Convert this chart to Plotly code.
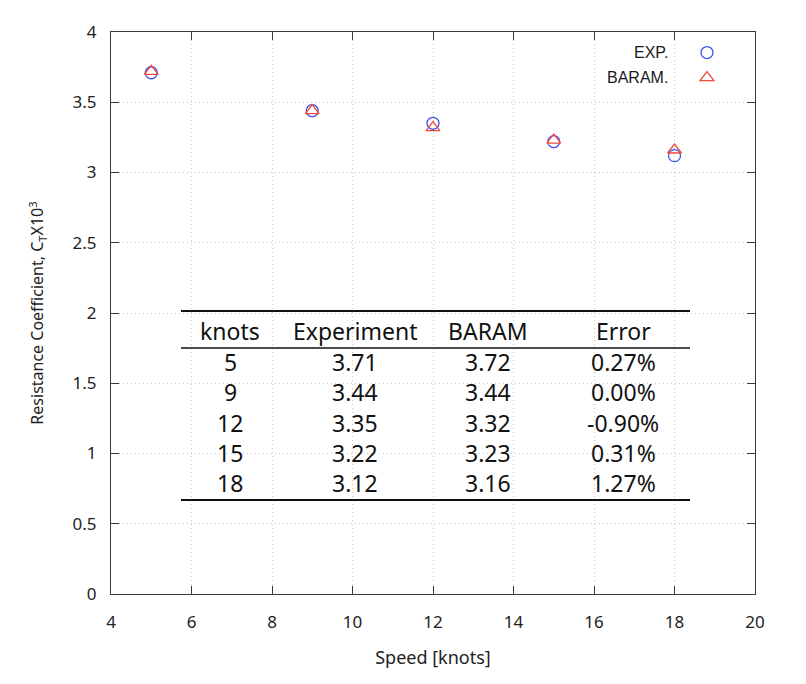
import plotly.graph_objects as go

speeds = [5, 9, 12, 15, 18]
ct_exp = [3.71, 3.44, 3.35, 3.22, 3.12]
ct_baram = [3.72, 3.44, 3.32, 3.23, 3.16]
errors_pct = [0.27, 0.00, -0.90, 0.31, 1.27]
table_header = ["knots", "Experiment", "BARAM", "Error"]
series_names = ["EXP.", "BARAM."]

x_ticks = list(range(4, 21, 2))
y_ticks = [0, 0.5, 1, 1.5, 2, 2.5, 3, 3.5, 4]

BLUE = "#4050f0"
RED = "#f04a38"
AXIS = "#3a3a3a"
GRID = "#c8c8c8"
FONT = "Noto Sans"

# the page puts the figure 8px in from the top-left corner
OFF = 8
W, H = 806, 684
L, R, T, B = 111 - OFF, 51 + OFF, 32 - OFF, 90 + OFF
plot_w, plot_h = W - L - R, H - T - B


def px_x(px):
    return (px - OFF - L) / plot_w


def px_y(py):
    return (H - B - (py - OFF)) / plot_h


fig = go.Figure()
fig.add_trace(go.Scatter(
    x=speeds, y=ct_exp, mode="markers", name="",
    marker=dict(symbol="circle-open", size=12, color=BLUE, line=dict(width=1.3, color=BLUE)),
    hovertemplate=series_names[0] + " %{x}, %{y}<extra></extra>",
))
fig.add_trace(go.Scatter(
    x=speeds, y=ct_baram, mode="markers", name="",
    marker=dict(symbol="triangle-up-open", size=12, color=RED, line=dict(width=1.3, color=RED)),
    hovertemplate=series_names[1] + " %{x}, %{y}<extra></extra>",
))

# gnuplot-style key: label on the left, symbol on the right
for i, label in enumerate(series_names):
    fig.add_annotation(
        text=label, xref="paper", yref="paper", x=px_x(670), y=px_y(52 + 25.5 * i),
        xanchor="right", yanchor="middle", showarrow=False,
        font=dict(family="Liberation Sans", size=16, color="#1a1a1a"),
    )

# table inside the plot
col_px = [230, 355, 488, 623]
for c, head in enumerate(table_header):
    fig.add_annotation(
        text=head, xref="paper", yref="paper", x=px_x(col_px[c]), y=px_y(331),
        xanchor="center", yanchor="middle", showarrow=False,
        font=dict(family=FONT, size=23, color="#111111"),
    )
for r, (kn, e, b, err) in enumerate(zip(speeds, ct_exp, ct_baram, errors_pct)):
    row = [f"{kn}", f"{e:.2f}", f"{b:.2f}", f"{err:.2f}%"]
    for c, txt in enumerate(row):
        fig.add_annotation(
            text=txt, xref="paper", yref="paper", x=px_x(col_px[c]), y=px_y(362 + 30.25 * r),
            xanchor="center", yanchor="middle", showarrow=False,
            font=dict(family=FONT, size=23, color="#111111"),
        )

for py, lw in [(311, 2), (348, 1.6), (500, 2)]:
    fig.add_shape(type="line", xref="paper", yref="paper",
                  x0=px_x(181), x1=px_x(690), y0=px_y(py), y1=px_y(py),
                  line=dict(color="#111111", width=lw))

fig.update_layout(
    width=W, height=H,
    margin=dict(l=L, r=R, t=T, b=B),
    paper_bgcolor="white", plot_bgcolor="white",
    font=dict(family=FONT, size=16, color="#222222"),
    showlegend=True,
    legend=dict(
        x=px_x(687), y=px_y(35), xanchor="left", yanchor="top",
        bgcolor="rgba(0,0,0,0)", font=dict(size=17), itemwidth=30,
        tracegroupgap=0,
    ),
)
fig.update_xaxes(
    range=[4, 20], tickvals=x_ticks, ticks="inside", ticklen=8, tickcolor=AXIS,
    showline=True, linecolor=AXIS, linewidth=1, mirror="ticks",
    showgrid=True, gridcolor=GRID, griddash="1px,3px", gridwidth=1, zeroline=False,
    ticklabelstandoff=13, tickfont=dict(size=17),
    title=dict(text="Speed [knots]", standoff=18, font=dict(size=18)),
)
fig.update_yaxes(
    range=[0, 4], tickvals=y_ticks, ticks="inside", ticklen=8, tickcolor=AXIS,
    showline=True, linecolor=AXIS, linewidth=1, mirror="ticks",
    showgrid=True, gridcolor=GRID, griddash="1px,3px", gridwidth=1, zeroline=False,
    ticklabelstandoff=10, tickfont=dict(size=17),
    title=dict(text="Resistance Coefficient, C<sub>T</sub>X10<sup>3</sup>", standoff=24, font=dict(size=16)),
)

fig.write_html("out.html")
